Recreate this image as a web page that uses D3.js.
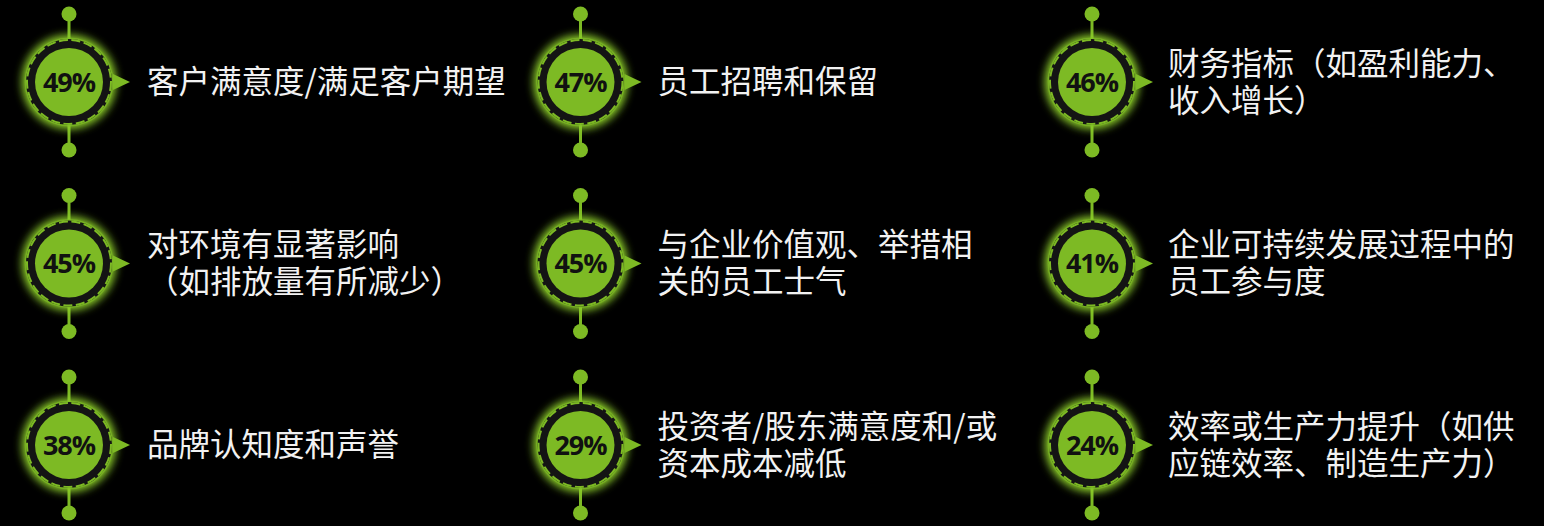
<!DOCTYPE html>
<html><head><meta charset="utf-8">
<script src="https://cdn.jsdelivr.net/npm/d3@7"></script>
<style>
html,body{margin:0;padding:0;background:#000;}
svg{display:block;}
</style></head>
<body>
<svg id="c" width="1544" height="526"></svg>
<script>
const categories = [
  "客户满意度/满足客户期望",
  "员工招聘和保留",
  "财务指标（如盈利能力、\n收入增长）",
  "对环境有显著影响\n（如排放量有所减少）",
  "与企业价值观、举措相\n关的员工士气",
  "企业可持续发展过程中的\n员工参与度",
  "品牌认知度和声誉",
  "投资者/股东满意度和/或\n资本成本减低",
  "效率或生产力提升（如供\n应链效率、制造生产力）"
];
const values = [49, 47, 46, 45, 45, 41, 38, 29, 24];

const svg = d3.select("#c");
const green = "#7dba24";
const x = d3.scaleLinear().domain([0, 2]).range([69, 1092]);
const y = d3.scaleLinear().domain([0, 2]).range([82, 445]);

const defs = svg.append("defs");
const f = defs.append("filter").attr("id","glow").attr("x","-50%").attr("y","-50%").attr("width","200%").attr("height","200%");
f.append("feGaussianBlur").attr("stdDeviation", 4);

const data = categories.map((c, i) => ({label: c, value: values[i], col: i % 3, row: Math.floor(i / 3)}));

const g = svg.selectAll("g.item").data(data).join("g")
  .attr("class","item")
  .attr("transform", d => `translate(${x(d.col)},${y(d.row)})`);

g.append("line").attr("x1",0).attr("x2",0).attr("y1",-68).attr("y2",68)
  .attr("stroke", green).attr("stroke-width", 3);
g.append("circle").attr("cy",-68).attr("r",7.5).attr("fill",green);
g.append("circle").attr("cy",68).attr("r",7.5).attr("fill",green);

g.append("circle").attr("r",47).attr("fill","#8fd12a").attr("filter","url(#glow)");
g.append("circle").attr("r",44.5).attr("fill",green).attr("opacity",0.6);
g.append("circle").attr("r",43).attr("fill","#141414");
g.append("circle").attr("r",42).attr("fill","none").attr("stroke",green)
  .attr("stroke-width",2).attr("stroke-dasharray","9 3.5");
g.append("circle").attr("r",34).attr("fill",green);
g.append("path").attr("d","M44,-8 L61,0 L44,8 Z").attr("fill",green);

g.append("text").attr("text-anchor","middle").attr("dy","0.36em")
  .attr("font-family","'Open Sans', Lato, sans-serif").attr("font-weight","bold")
  .attr("font-size",27).attr("letter-spacing",-1).attr("fill","#111")
  .text(d => d.value + "%");

const lh = 37;
g.each(function(d){
  const lines = d.label.split("\n");
  const t = d3.select(this).append("text")
    .attr("font-family","'Noto Sans CJK SC', sans-serif")
    .attr("font-size",31.5).attr("fill","#f2f2f2");
  lines.forEach((ln, k) => {
    t.append("tspan").attr("x", 78 - d.col)
      .attr("y", (k - (lines.length - 1) / 2) * lh)
      .attr("dy","0.36em").text(ln);
  });
});
</script>
</body></html>
